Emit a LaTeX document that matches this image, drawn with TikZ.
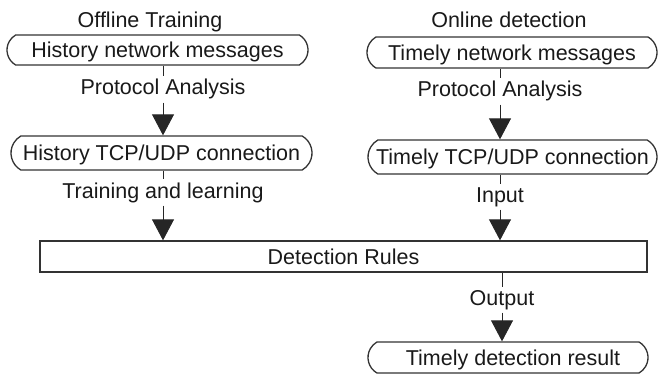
\documentclass[tikz,border=0pt]{standalone}
\usepackage{fontspec}
\setmainfont{Liberation Sans}
\usetikzlibrary{arrows.meta,shapes.misc}
\begin{document}
\begin{tikzpicture}[x=1pt,y=-1pt,
  every node/.style={font=\fontsize{21.5}{25}\selectfont, text=black!90},
  terminal/.style={rounded rectangle, rounded rectangle arc length=120,
    draw=black!80, line width=1.3pt, inner sep=0pt, text depth=0pt},
  rulebox/.style={rectangle, draw=black!80, line width=1.3pt, inner sep=0pt, text depth=0pt},
  caption/.style={anchor=base, inner xsep=2pt, inner ysep=3pt},
  tick/.style={draw=black!85, line width=0.9pt},
  flow/.style={draw=black!85, line width=0.9pt, -{Triangle[width=22pt,length=21pt]}}]
  \useasboundingbox (0,0) rectangle (658,374);

  % column headings
  \node[caption] (offline) at (150,28) {Offline Training};
  \node[caption] (online) at (509,28) {Online detection};

  % offline branch
  \node[terminal, minimum width=301pt, minimum height=30pt] (hnm) at (157.5,50) {History network messages};
  \node[caption] (pa1) at (163,95) {Protocol Analysis};
  \node[terminal, minimum width=301pt, minimum height=34pt] (htcp) at (161.5,153) {History TCP/UDP connection};
  \node[caption] (train) at (163,198) {Training and learning};

  % online branch
  \node[terminal, minimum width=290pt, minimum height=31pt] (tnm) at (512,52.5) {Timely network messages};
  \node[caption] (pa2) at (500,97) {Protocol Analysis};
  \node[terminal, minimum width=289pt, minimum height=34pt] (ttcp) at (512.5,157) {Timely TCP/UDP connection};
  \node[caption] (input) at (500,202) {Input};

  % shared rule base and result
  \node[rulebox, minimum width=607pt, minimum height=31pt] (rules) at (343.5,256.5) {Detection Rules};
  \node[caption] (output) at (502,305) {Output};
  \node[terminal, minimum width=280pt, minimum height=31pt] (tdr) at (508,357.5) {\hspace*{10pt}Timely detection result};

  % connectors: short stub above each label, arrow below it
  \draw[tick] (hnm.south -| pa1) -- (pa1.north);
  \draw[flow] (pa1.south) -- (htcp.north -| pa1);
  \draw[tick] (htcp.south -| train) -- (train.north);
  \draw[flow] (train.south) -- (rules.north -| train);

  \draw[tick] (tnm.south -| pa2) -- (pa2.north);
  \draw[flow] (pa2.south) -- (ttcp.north -| pa2);
  \draw[tick] (ttcp.south -| input) -- (input.north);
  \draw[flow] (input.south) -- (rules.north -| input);

  \draw[tick] (rules.south -| output) -- (output.north);
  \draw[flow] (output.south) -- (tdr.north -| output);
\end{tikzpicture}
\end{document}
